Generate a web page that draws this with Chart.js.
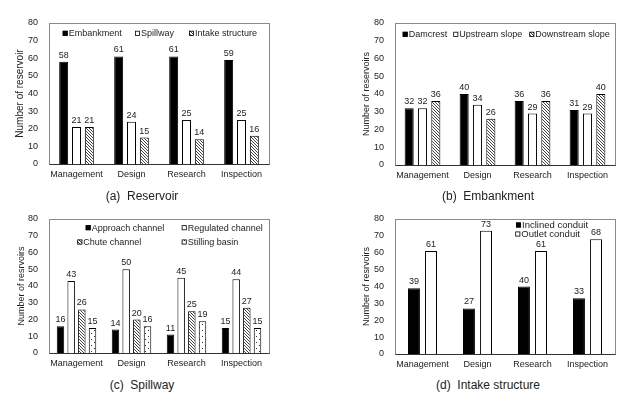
<!DOCTYPE html>
<html>
<head>
<meta charset="utf-8">
<script src="https://cdn.jsdelivr.net/npm/chart.js@4.4.1/dist/chart.umd.min.js"></script>
<style>
html, body { margin: 0; padding: 0; background: #fff; }
#wrap { position: relative; width: 643px; height: 403px; overflow: hidden; }
canvas { position: absolute; }
.cap { position: absolute; width: 200px; text-align: center; font: 12px "Liberation Sans", Arial, sans-serif;
       color: #222; white-space: pre; line-height: 14px; }
</style>
</head>
<body>
<div id="wrap">
  <canvas id="cA" width="321" height="185" style="left:0;top:0"></canvas>
  <canvas id="cB" width="322" height="185" style="left:321px;top:0"></canvas>
  <canvas id="cC" width="321" height="175" style="left:0;top:200px"></canvas>
  <canvas id="cD" width="322" height="175" style="left:321px;top:200px"></canvas>
  <div class="cap" style="left:42px;top:189px">(a)  Reservoir</div>
  <div class="cap" style="left:388px;top:189px">(b)  Embankment</div>
  <div class="cap" style="left:42px;top:378px">(c)  Spillway</div>
  <div class="cap" style="left:388px;top:378px">(d)  Intake structure</div>
</div>
<script>
// categories and values
const categories = ['Management', 'Design', 'Research', 'Inspection'];
const yTicks = [0, 10, 20, 30, 40, 50, 60, 70, 80];

// (a) Reservoir
const embankment = [58, 61, 61, 59];
const spillway = [21, 24, 25, 25];
const intakeStructure = [21, 15, 14, 16];

// (b) Embankment
const damcrest = [32, 40, 36, 31];
const upstreamSlope = [32, 34, 29, 29];
const downstreamSlope = [36, 26, 36, 40];

// (c) Spillway
const approachChannel = [16, 14, 11, 15];
const regulatedChannel = [43, 50, 45, 44];
const chuteChannel = [26, 20, 25, 27];
const stillingBasin = [15, 16, 19, 15];

// (d) Intake structure
const inclinedConduit = [39, 27, 40, 33];
const outletConduit = [61, 73, 61, 68];

const FONT = '"Liberation Sans", Arial, sans-serif';
const TEXT = '#222';

// fill patterns
function hatch() {
    const c = document.createElement('canvas');
    c.width = 3; c.height = 3;
    const g = c.getContext('2d');
    g.fillStyle = '#fff'; g.fillRect(0, 0, 3, 3);
    g.strokeStyle = '#111'; g.lineWidth = 0.8;
    g.beginPath();
    g.moveTo(-1, -1); g.lineTo(4, 4);
    g.moveTo(-1, 2); g.lineTo(1, 4);
    g.moveTo(2, -1); g.lineTo(4, 1);
    g.stroke();
    return g.createPattern(c, 'repeat');
}
function dots() {
    const c = document.createElement('canvas');
    c.width = 6; c.height = 6;
    const g = c.getContext('2d');
    g.fillStyle = '#fff'; g.fillRect(0, 0, 6, 6);
    g.fillStyle = '#333';
    g.fillRect(1, 1, 1, 1);
    g.fillRect(4, 4, 1, 1);
    return g.createPattern(c, 'repeat');
}
const BLACK = '#000', WHITE = '#fff', HATCH = hatch(), DOTS = dots();

// box round the plot + dark base line
Chart.register({
    id: 'plotBox',
    afterDraw(chart) {
        const a = chart.chartArea, ctx = chart.ctx;
        const l = Math.round(a.left) + 0.5, t = Math.round(a.top) + 0.5;
        const r = Math.round(a.right) + 0.5, b = Math.round(a.bottom) + 0.5;
        ctx.save();
        ctx.lineWidth = 1;
        ctx.strokeStyle = '#8a8a8a';
        ctx.strokeRect(l, t, r - l, b - t);
        ctx.strokeStyle = '#333';
        ctx.beginPath(); ctx.moveTo(l, b); ctx.lineTo(r, b); ctx.stroke();
        ctx.restore();
    }
});

// numbers over the bars
Chart.register({
    id: 'valueLabels',
    afterDatasetsDraw(chart, args, opts) {
        const ctx = chart.ctx;
        ctx.save();
        ctx.font = (opts.size || 9) + 'px ' + FONT;
        ctx.fillStyle = TEXT;
        ctx.textAlign = 'center';
        ctx.textBaseline = 'alphabetic';
        chart.data.datasets.forEach((ds, i) => {
            chart.getDatasetMeta(i).data.forEach((bar, j) => {
                ctx.fillText(ds.data[j], bar.x, bar.y - 4);
            });
        });
        ctx.restore();
    }
});

// small square legend drawn inside the plot
Chart.register({
    id: 'boxLegend',
    afterDraw(chart, args, opts) {
        if (!opts.at) return;
        const ctx = chart.ctx;
        ctx.save();
        ctx.font = opts.size + 'px ' + FONT;
        ctx.textBaseline = 'middle';
        chart.data.datasets.forEach((ds, i) => {
            const [x, y] = opts.at[i];
            ctx.fillStyle = ds.backgroundColor;
            ctx.fillRect(x, y - 2.5, 5, 5);
            ctx.strokeStyle = '#000'; ctx.lineWidth = 0.8;
            ctx.strokeRect(x + 0.4, y - 2.1, 4.2, 4.2);
            ctx.fillStyle = TEXT;
            ctx.fillText(ds.label, x + 6, y + 0.5);
        });
        ctx.restore();
    }
});

function makePanel(id, s) {
    return new Chart(document.getElementById(id), {
        type: 'bar',
        data: {
            labels: categories,
            datasets: s.series.map(d => ({
                label: d[0], data: d[1], backgroundColor: d[2],
                borderColor: '#000', borderWidth: 1,
                categoryPercentage: s.cp, barPercentage: s.bp
            }))
        },
        options: {
            responsive: false, animation: false, devicePixelRatio: 1,
            layout: { padding: { left: s.padLeft, top: s.top, right: s.right, bottom: 0 } },
            plugins: {
                legend: { display: false },
                tooltip: { enabled: false },
                valueLabels: { size: 9 },
                boxLegend: { size: s.legendSize, at: s.legendAt }
            },
            scales: {
                x: {
                    grid: { display: false, drawTicks: false },
                    border: { display: false },
                    ticks: { font: { family: FONT, size: 9 }, color: TEXT, padding: 5,
                             maxRotation: 0, minRotation: 0, autoSkip: false },
                    afterFit: sc => { sc.height = s.xh; }
                },
                y: {
                    min: 0, max: 80,
                    grid: { display: false, drawTicks: false },
                    border: { display: false },
                    afterBuildTicks: sc => { sc.ticks = yTicks.map(v => ({ value: v })); },
                    ticks: { font: { family: FONT, size: 9 }, color: TEXT, padding: 11 },
                    title: { display: true, text: s.title, color: TEXT,
                             font: { family: FONT, size: s.titleSize },
                             padding: { top: s.tp, bottom: 0 } },
                    afterFit: sc => { sc.width = 49; }
                }
            }
        }
    });
}

makePanel('cA', {
    series: [['Embankment', embankment, BLACK], ['Spillway', spillway, WHITE],
             ['Intake structure', intakeStructure, HATCH]],
    cp: 0.7, bp: 0.7, padLeft: 0, top: 23, right: 52, xh: 21,
    title: 'Number of reservoir', titleSize: 10, tp: 14.7,
    legendSize: 9, legendAt: [[62.7, 33.3], [135, 33.3], [189, 33.3]]
});

makePanel('cB', {
    series: [['Damcrest', damcrest, BLACK], ['Upstream slope', upstreamSlope, WHITE],
             ['Downstream slope', downstreamSlope, HATCH]],
    cp: 0.727, bp: 0.68, padLeft: 25, top: 23, right: 28, xh: 20,
    title: 'Number of reservoirs', titleSize: 9, tp: 15.3,
    legendSize: 9, legendAt: [[81.7, 34.3], [132.3, 34.3], [208.3, 34.3]]
});

makePanel('cC', {
    series: [['Approach channel', approachChannel, BLACK], ['Regulated channel', regulatedChannel, WHITE],
             ['Chute channel', chuteChannel, HATCH], ['Stilling basin', stillingBasin, DOTS]],
    cp: 0.776, bp: 0.7, padLeft: 0, top: 19, right: 52, xh: 22,
    title: 'Number of resrvoirs', titleSize: 9, tp: 16.3,
    legendSize: 9, legendAt: [[85.7, 27.7], [181.7, 27.7], [77.3, 42], [181.7, 42]]
});

makePanel('cD', {
    series: [['Inclined conduit', inclinedConduit, BLACK], ['Outlet conduit', outletConduit, WHITE]],
    cp: 0.62, bp: 0.7, padLeft: 25, top: 19, right: 28, xh: 21,
    title: 'Number of resrvoirs', titleSize: 9, tp: 15.3,
    legendSize: 9.5, legendAt: [[195, 25], [194.3, 34]]
});
</script>
</body>
</html>
